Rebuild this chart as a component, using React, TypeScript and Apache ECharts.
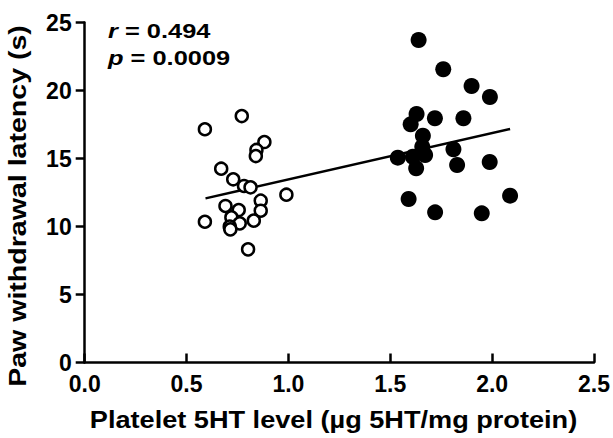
import React, { useEffect, useRef } from "react";
import * as echarts from "echarts";

const xTicks = [0, 0.5, 1.0, 1.5, 2.0, 2.5];
const yTicks = [0, 5, 10, 15, 20, 25];

// Open circles (low platelet 5HT)
const lowX = [0.59, 0.771, 0.882, 0.843, 0.84, 0.67, 0.729, 0.782, 0.814, 0.99, 0.864, 0.691, 0.864, 0.756, 0.72, 0.59, 0.83, 0.761, 0.712, 0.715, 0.802];
const lowY = [17.15, 18.12, 16.21, 15.63, 15.18, 14.25, 13.47, 12.98, 12.88, 12.34, 11.9, 11.51, 11.16, 11.21, 10.67, 10.35, 10.43, 10.23, 9.99, 9.79, 8.32];

// Filled circles (high platelet 5HT)
const highX = [1.639, 1.76, 1.899, 1.989, 1.629, 1.6, 1.719, 1.859, 1.66, 1.537, 1.627, 1.671, 1.657, 1.611, 1.81, 1.828, 1.988, 1.59, 1.72, 1.949, 2.088];
const highY = [23.71, 21.56, 20.33, 19.52, 18.27, 17.51, 17.96, 17.96, 16.68, 15.06, 14.28, 15.26, 15.87, 15.13, 15.68, 14.52, 14.74, 12.02, 11.04, 10.97, 12.27];

// Regression line end points
const fitX = [0.593, 2.088];
const fitY = [12.07, 17.17];

const xTitle = "Platelet 5HT level (\u00b5g 5HT/mg protein)";
const yTitle = "Paw withdrawal latency (s)";
const rText = "0.494";
const pText = "0.0009";

const FONT = '"Liberation Sans", Arial, Helvetica, sans-serif';

export default function App() {
  const ref = useRef<HTMLDivElement>(null);
  useEffect(() => {
    if (!ref.current) return;
    const chart = echarts.init(ref.current, undefined, { renderer: "svg" });
    const axisLine = { show: true, lineStyle: { color: "#000", width: 2.5 } };
    const annot = (label: string, value: string, y: number) => ({
      type: "text",
      x: 108,
      y,
      scaleX: 1.27,
      style: {
        text: `{i|${label}} = ${value}`,
        font: `bold 20px ${FONT}`,
        fill: "#000",
        align: "left",
        verticalAlign: "middle",
        rich: { i: { fontStyle: "italic", fontWeight: "bold", fontSize: 20, fontFamily: FONT, fill: "#000" } },
      },
    });
    chart.setOption({
      animation: false,
      backgroundColor: "#fff",
      grid: { left: 84.7, right: 18, top: 22.5, bottom: 75.5, containLabel: false },
      xAxis: {
        type: "value",
        min: xTicks[0],
        max: xTicks[xTicks.length - 1],
        interval: 0.5,
        axisLine,
        axisTick: { show: true, inside: true, length: 9, lineStyle: { color: "#000", width: 2.5 } },
        splitLine: { show: false },
        axisLabel: {
          color: "#000",
          fontFamily: FONT,
          fontWeight: "bold",
          fontSize: 23,
          margin: 10,
          formatter: (v: number) => v.toFixed(1),
        },
      },
      yAxis: {
        type: "value",
        min: yTicks[0],
        max: yTicks[yTicks.length - 1],
        interval: 5,
        axisLine,
        axisTick: { show: true, inside: false, length: 9, lineStyle: { color: "#000", width: 2.5 } },
        splitLine: { show: false },
        axisLabel: {
          color: "#000",
          fontFamily: FONT,
          fontWeight: "bold",
          fontSize: 23,
          margin: 13,
          formatter: (v: number) => String(v),
        },
      },
      graphic: [
        {
          type: "text",
          x: 333.5,
          y: 420,
          scaleX: 1.18,
          style: {
            text: xTitle,
            font: `bold 23px ${FONT}`,
            fill: "#000",
            align: "center",
            verticalAlign: "middle",
          },
        },
        {
          type: "text",
          x: 18,
          y: 206,
          rotation: Math.PI / 2,
          scaleX: 1.19,
          style: {
            text: yTitle,
            font: `bold 24px ${FONT}`,
            fill: "#000",
            align: "center",
            verticalAlign: "middle",
          },
        },
        annot("r", rText, 31),
        annot("p", pText, 58.5),
      ],
      series: [
        {
          type: "line",
          data: fitX.map((x, i) => [x, fitY[i]]),
          symbol: "none",
          lineStyle: { color: "#000", width: 2.5 },
          z: 1,
        },
        {
          type: "scatter",
          data: lowX.map((x, i) => [x, lowY[i]]),
          symbol: "circle",
          symbolSize: 12,
          itemStyle: { color: "#fff", borderColor: "#000", borderWidth: 2.5, opacity: 1 },
          z: 2,
        },
        {
          type: "scatter",
          data: highX.map((x, i) => [x, highY[i]]),
          symbol: "circle",
          symbolSize: 16,
          itemStyle: { color: "#000", opacity: 1 },
          z: 3,
        },
      ],
    });
    return () => chart.dispose();
  }, []);
  return <div ref={ref} style={{ width: 613, height: 438, position: "absolute", left: 0, top: 0 }} />;
}
